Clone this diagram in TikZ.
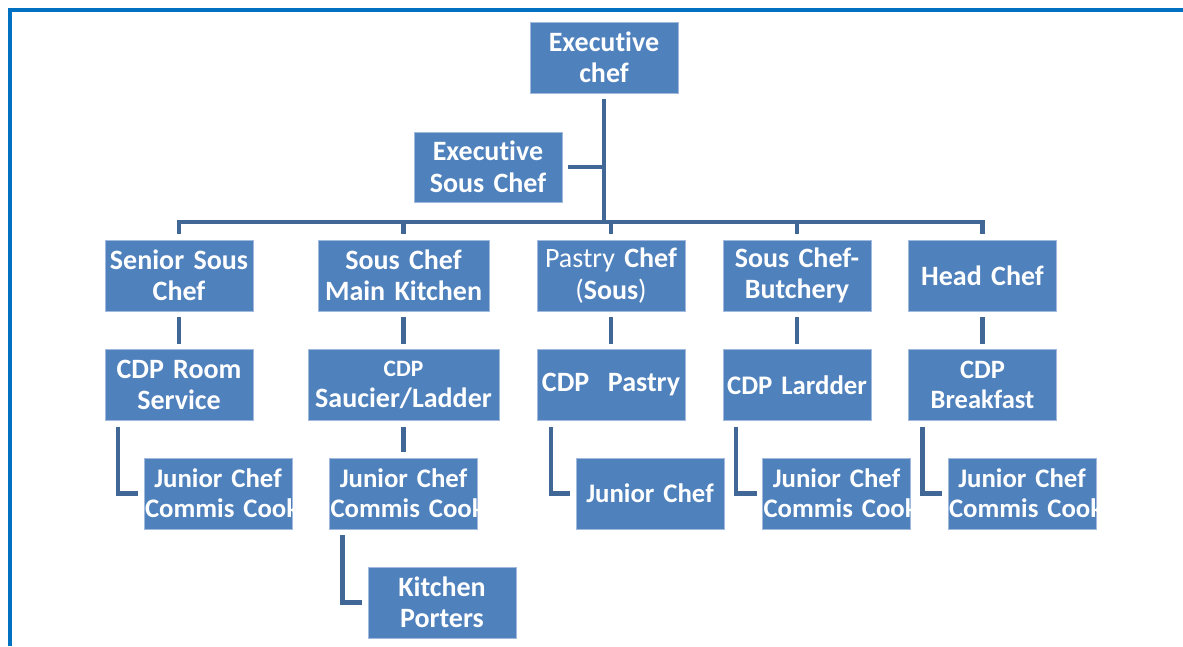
\documentclass[tikz,border=0pt]{standalone}
\usepackage{fontspec}
\setmainfont{Carlito}[Ligatures=NoCommon]
\usepackage{tikz}
\definecolor{boxblue}{RGB}{79,129,189}
\definecolor{boxedge}{RGB}{160,185,220}
\definecolor{linkblue}{RGB}{65,103,150}
\definecolor{frameblue}{RGB}{0,112,192}
\begin{document}
\begin{tikzpicture}[x=1pt,y=-1pt,
    box/.style={rectangle, draw=boxedge, line width=0.8pt, fill=boxblue, text=white,
        font=\fontsize{28}{31.5}\selectfont\bfseries, align=center,
        minimum width=148pt, text width=146pt, inner xsep=1pt, inner ysep=0pt,
        minimum height=71pt, outer sep=6pt},
    smallbox/.style={box, font=\fontsize{26.8}{30}\selectfont\bfseries},
    link/.style={draw=linkblue, line width=4.5pt}]
    \useasboundingbox (0,0) rectangle (1183,646);
    \draw [frameblue, line width=4pt] (10,646) -- (10,10) -- (1183,10);
    \path
        (604,57.5) node(exec)[box]{Executive\\chef}
        (488,167) node(exsous)[box, minimum height=70pt]{Executive\\\mbox{Sous Chef}}
        (179,275.5) node(ssc)[box]{\mbox{Senior Sous}\\Chef}
        (403.5,275.5) node(scmk)[box, minimum width=171pt, text width=169pt]{\mbox{Sous Chef}\\\mbox{Main Kitchen}}
        (611,275.5) node(pastry)[box]{\mbox{{\mdseries Pastry} Chef}\\{\mdseries(}Sous{\mdseries)}}
        (797,275.5) node(butch)[box]{\mbox{Sous Chef-}\\Butchery}
        (982.5,275.5) node(head)[box]{\mbox{Head Chef}}
        (179,385) node(crs)[box]{\mbox{CDP Room}\\Service}
        (403.5,385) node(csl)[box, minimum width=191pt, text width=189pt]{{\fontsize{23.5}{28}\selectfont CDP}\\Saucier/Ladder}
        (611,385) node(cpa)[box]{\mbox{CDP~~Pastry}}
        (797,385) node(cla)[smallbox]{\mbox{CDP Lardder}}
        (982.5,385) node(cbr)[box, font=\fontsize{26.5}{30}\selectfont\bfseries]{CDP\\Breakfast}
        (218,493.5) node(jr1)[smallbox]{\mbox{Junior Chef}\\\mbox{Commis Cook}}
        (403.5,493.5) node(jr2)[smallbox]{\mbox{Junior Chef}\\\mbox{Commis Cook}}
        (650,493.5) node(jr3)[smallbox]{\mbox{Junior Chef}}
        (836.5,493.5) node(jr4)[smallbox]{\mbox{Junior Chef}\\\mbox{Commis Cook}}
        (1022,493.5) node(jr5)[smallbox]{\mbox{Junior Chef}\\\mbox{Commis Cook}}
        (442,602.5) node(kp)[box]{Kitchen\\Porters};
    \coordinate (bar) at (604,222);
    \draw [link] (exec.south) -- (bar);
    \draw [link] (exsous.east) -- (exsous.east -| bar);
    \draw [link] (ssc.north) |- (head.north |- bar) -- (head.north);
    \foreach \n in {scmk,pastry,butch}
        \draw [link] (\n.north) -- (\n.north |- bar);
    \draw [link] (ssc) -- (crs);
    \draw [link] (scmk) -- (csl);
    \draw [link] (pastry) -- (cpa);
    \draw [link] (butch) -- (cla);
    \draw [link] (head) -- (cbr);
    \draw [link] (csl) -- (jr2);
    \draw [link] (crs.south west) ++(19,0) |- (jr1.west);
    \draw [link] (cpa.south west) ++(20,0) |- (jr3.west);
    \draw [link] (cla.south west) ++(19,0) |- (jr4.west);
    \draw [link] (cbr.south west) ++(20,0) |- (jr5.west);
    \draw [link] (jr2.south west) ++(19,0) |- (kp.west);
\end{tikzpicture}
\end{document}
